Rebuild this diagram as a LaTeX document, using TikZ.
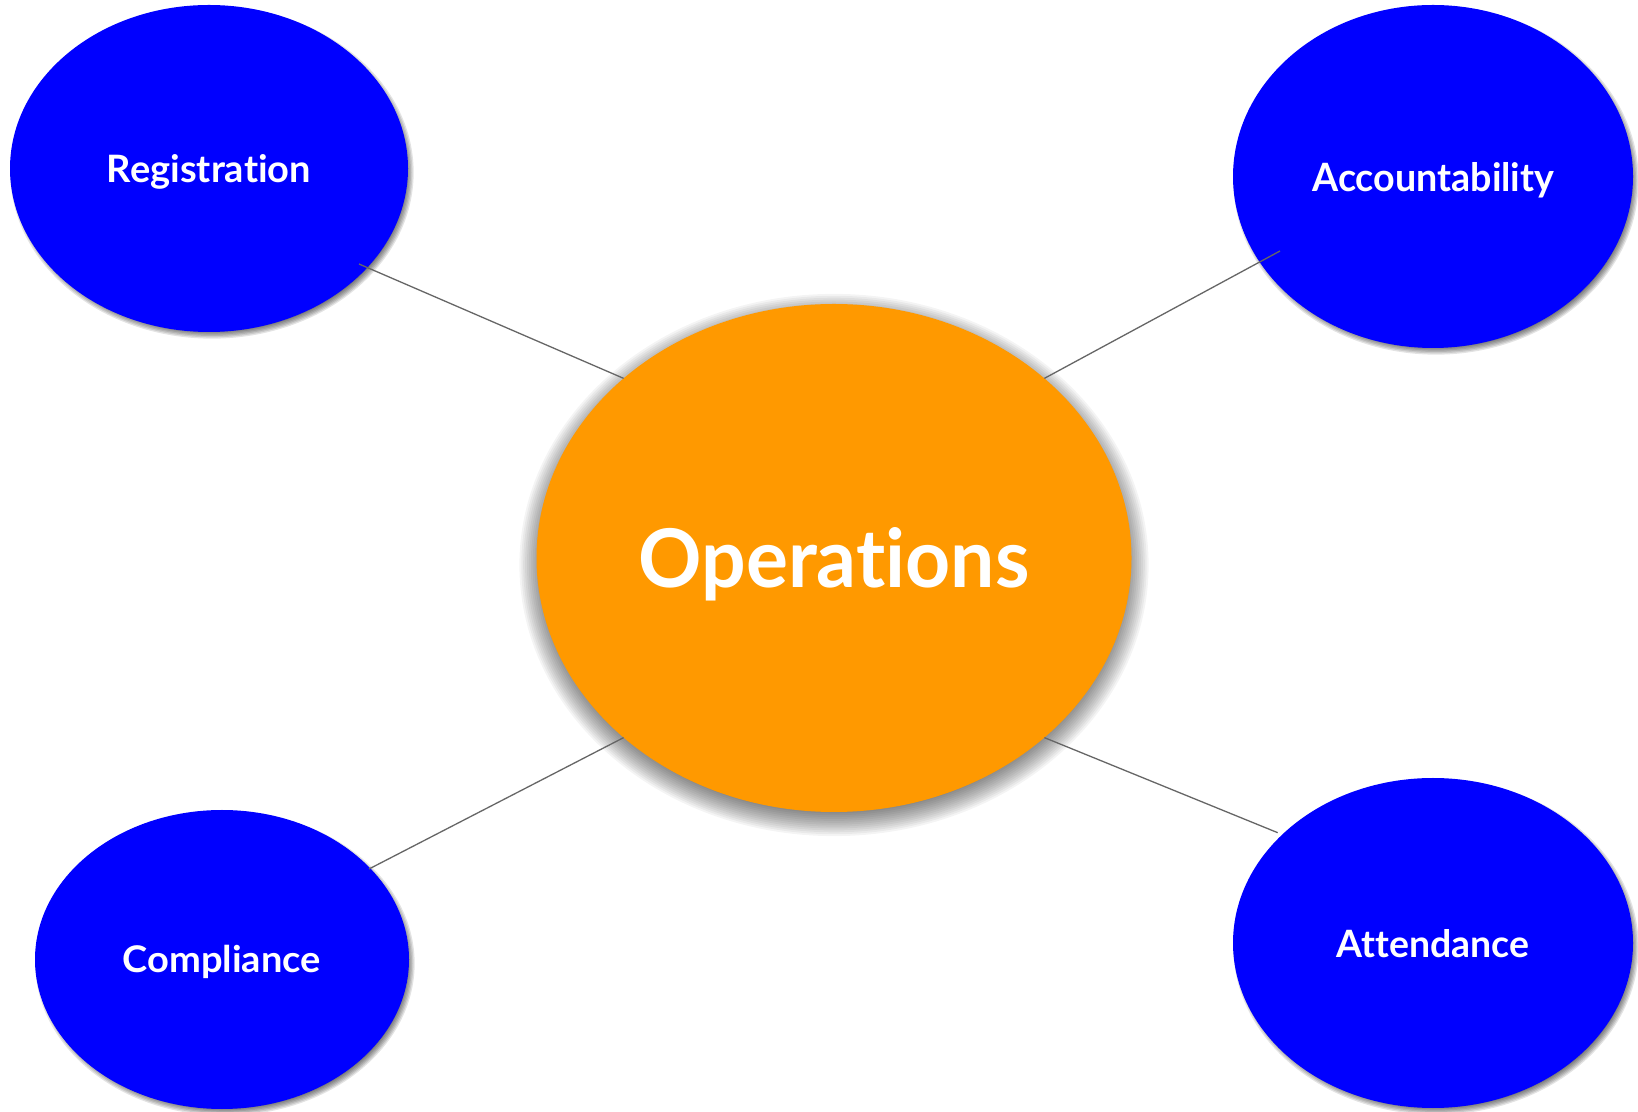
\documentclass[tikz,border=0pt]{standalone}
\usepackage{graphicx}
\usepackage{fontspec}
\setmainfont{Lato}[Ligatures={NoCommon,NoRequired,NoContextual}]
\usetikzlibrary{shapes.geometric}
\definecolor{opsorange}{HTML}{FF9900}
\definecolor{bubbleblue}{HTML}{0000FF}
\definecolor{linkgray}{HTML}{666666}
% soft shadow: centre x, centre y, x radius, y radius, spread, steps, opacity per step
\newcommand{\softshade}[7]{%
  \foreach \k in {1,...,#6}{%
    \fill[black, fill opacity=#7] (#1,#2) ellipse
      [x radius={#3+#5*(1-2*\k/#6)}, y radius={#4+#5*(1-2*\k/#6)}];}}
\begin{document}
\begin{tikzpicture}[x=1pt,y=1pt,
  bubble/.style={ellipse, fill=bubbleblue, inner sep=0pt, outer sep=0pt},
  hub/.style={ellipse, fill=opsorange, inner sep=0pt, outer sep=0pt,
    minimum width=595pt, minimum height=508pt},
  txt/.style={text=white, inner sep=0pt, outer sep=0pt, anchor=base,
    font=\bfseries\fontsize{40}{48}\selectfont},
  link/.style={draw=linkgray, line width=1.3pt}
]
\useasboundingbox (0,0) rectangle (1638,1111);
\fill[white] (0,0) rectangle (1638,1111);

% shadows of outer bubbles
\softshade{212}{938.5}{199}{163.5}{4}{6}{0.11}
\softshade{1436}{930.5}{200}{171.5}{4}{6}{0.11}
\softshade{225}{147.5}{187}{149.5}{4}{6}{0.11}
\softshade{1436}{164}{200}{165}{4}{6}{0.11}

% outer bubbles
\node[bubble, minimum width=398pt, minimum height=327pt] (reg) at (209,942.5) {};
\node[bubble, minimum width=400pt, minimum height=343pt] (acc) at (1433,934.5) {};
\node[bubble, minimum width=374pt, minimum height=299pt] (com) at (222,151.5) {};
\node[bubble, minimum width=400pt, minimum height=330pt] (att) at (1433,168) {};

% hub shadow and hub
\softshade{834}{546}{297.5}{254}{19}{20}{0.042}
\node[hub] (ops) at (834,553) {};

% connector free ends inside bubbles
\coordinate (regp) at (359,847);
\coordinate (accp) at (1280,860);
\coordinate (comp) at (369,242);
\coordinate (attp) at (1277.7,278.3);

\draw[link] (regp) -- (ops.north west);
\draw[link] (accp) -- (ops.north east);
\draw[link] (comp) -- (ops.south west);
\draw[link] (attp) -- (ops.south east);

% texts
\node[txt] (regt) at (209,928.7) {\resizebox{204pt}{28pt}{Registration}};
\node[txt] (acct) at (1433.3,919.3) {\resizebox{242pt}{29pt}{Accountability}};
\node[txt] (comt) at (221.8,138.3) {\resizebox{198.3pt}{27.3pt}{Compliance}};
\node[txt] (attt) at (1433,153.7) {\resizebox{192.7pt}{28pt}{Attendance}};
\node[txt] (opst) at (834,523.7) {\resizebox{390.7pt}{60pt}{Operations}};
\end{tikzpicture}
\end{document}
